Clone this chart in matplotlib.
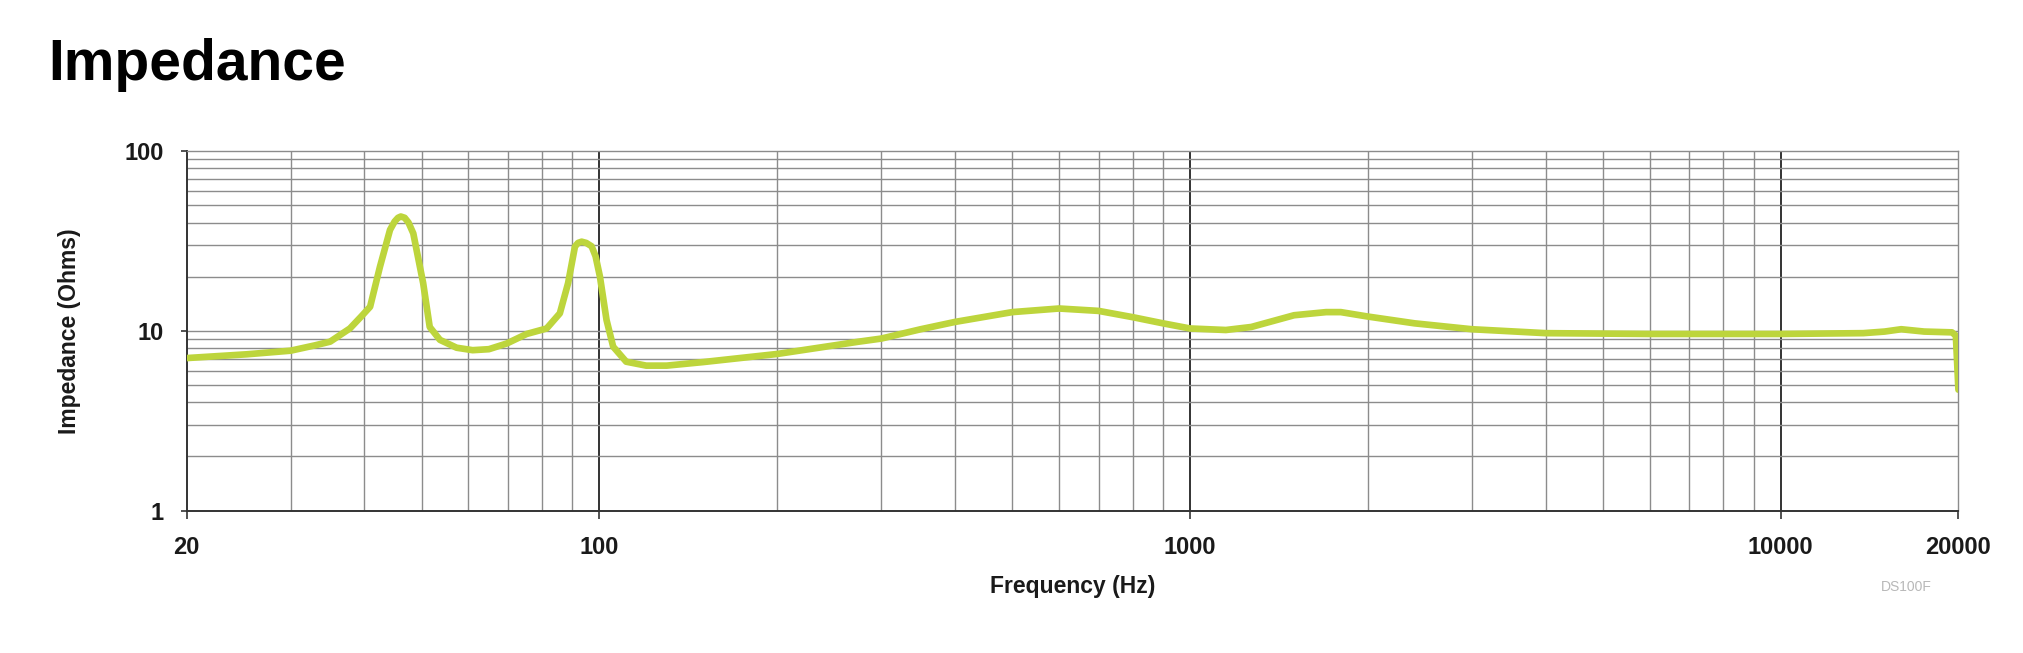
import matplotlib
matplotlib.use("Agg")
import matplotlib.pyplot as plt
from matplotlib.ticker import FixedLocator, NullFormatter

# impedance curve (Hz, Ohms)
freq = [20, 25.3, 30, 33, 35, 37.8, 39.5, 40.9, 42.5, 44.2, 45, 45.6, 46.1,
        46.8, 47.5, 48.4, 50.3, 51.6, 53.7, 57.3, 61, 65, 69.7, 75.3, 81.4,
        85.7, 88.5, 90.9, 92, 93.3, 95, 97, 98.5, 100.2, 102.8, 105.5, 111,
        120, 130, 150, 200, 250, 275, 300, 350, 400, 500, 600, 700, 800, 900,
        1000, 1150, 1270, 1500, 1700, 1800, 2000, 2400, 3000, 4000, 6000, 9000,
        10000, 13800, 15000, 16000, 17500, 19500, 19800, 20000]
ohms = [7.05, 7.4, 7.75, 8.3, 8.7, 10.3, 12.0, 13.6, 22.7, 36.4, 40.5, 42.5,
        43.2, 42.5, 40.0, 34.8, 18.4, 10.5, 8.9, 8.05, 7.8, 7.9, 8.5, 9.6,
        10.3, 12.5, 18.4, 29.4, 30.8, 31.3, 30.8, 29.5, 26.0, 20.0, 11.5, 8.16,
        6.73, 6.4, 6.4, 6.7, 7.43, 8.3, 8.7, 9.05, 10.2, 11.2, 12.7, 13.3,
        12.9, 11.9, 11.0, 10.3, 10.1, 10.5, 12.2, 12.7, 12.7, 12.0, 11.0,
        10.2, 9.7, 9.6, 9.6, 9.6, 9.7, 9.9, 10.2, 9.9, 9.8, 9.4, 4.7]

x_ticks = [20, 100, 1000, 10000, 20000]
x_labels = ["20", "100", "1000", "10000", "20000"]
y_ticks = [1, 10, 100]
y_labels = ["1", "10", "100"]

plt.rcParams["font.family"] = ["Liberation Sans", "DejaVu Sans"]
grid_c = "#8c8c8c"
dark_c = "#333333"
text_c = "#1a1a1a"

fig = plt.figure(figsize=(20.24, 6.53), dpi=100)
ax = fig.add_axes([0.0922, 0.2181, 0.8754, 0.5507])

ax.set_xscale("log")
ax.set_yscale("log")
ax.set_xlim(20, 20000)
ax.set_ylim(1, 100)

# grid: thin grey lines, darker decades on x
x_minor = [m * d for d in (10, 100, 1000) for m in range(2, 10)]
x_minor = [v for v in x_minor if 20 < v < 20000]
y_minor = [m * d for d in (1, 10) for m in range(2, 10)] + [10]
for v in x_minor:
    ax.axvline(v, color=grid_c, lw=1.0, zorder=1)
for v in (100, 1000, 10000):
    ax.axvline(v, color=dark_c, lw=1.4, zorder=1)
for v in y_minor:
    ax.axhline(v, color=grid_c, lw=1.0, zorder=1)

ax.plot(freq, ohms, color="#bdd53c", lw=4.8, solid_joinstyle="round",
        solid_capstyle="round", zorder=3)

ax.xaxis.set_major_locator(FixedLocator(x_ticks))
ax.xaxis.set_minor_locator(FixedLocator([]))
ax.set_xticklabels(x_labels)
ax.yaxis.set_major_locator(FixedLocator(y_ticks))
ax.yaxis.set_minor_locator(FixedLocator([]))
ax.yaxis.set_minor_formatter(NullFormatter())
ax.set_yticklabels(y_labels)

ax.tick_params(axis="x", length=6, width=1.2, color=dark_c, pad=12)
ax.tick_params(axis="y", length=4.5, width=1.2, color=dark_c, pad=12)
for t in ax.get_xticklabels() + ax.get_yticklabels():
    t.set_fontweight("bold")
    t.set_fontsize(17)
    t.set_color(text_c)

for s in ("top", "right"):
    ax.spines[s].set_color(grid_c)
    ax.spines[s].set_linewidth(1.0)
for s in ("left", "bottom"):
    ax.spines[s].set_color(dark_c)
    ax.spines[s].set_linewidth(1.4)

ax.set_xlabel("Frequency (Hz)", fontweight="bold", fontsize=16.5, color=text_c)
ax.set_ylabel("Impedance (Ohms)", fontweight="bold", fontsize=16.5, color=text_c)
ax.xaxis.set_label_coords(0.5, -0.179)
ax.yaxis.set_label_coords(-0.0597, 0.5)

fig.text(0.0237, 0.8775, "Impedance", fontweight="bold", fontsize=41,
         va="baseline", ha="left")
fig.text(0.942, 0.101, "DS100F", fontsize=10, color="#b8b8b8",
         ha="center", va="center")

fig.savefig("out.png", dpi=100)
